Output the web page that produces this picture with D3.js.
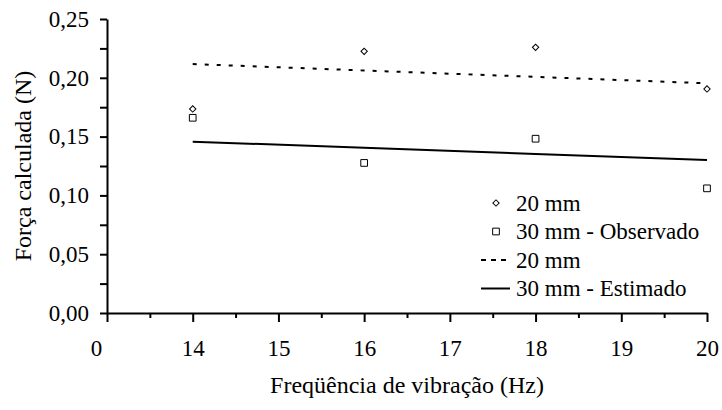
<!DOCTYPE html>
<html>
<head>
<meta charset="utf-8">
<script src="https://cdn.jsdelivr.net/npm/d3@7"></script>
</head>
<body style="margin:0;background:#fff">
<svg id="chart" width="722" height="410"></svg>
<script>
// Frequências (Hz) e forças calculadas (N)
const frequencies = [14, 16, 18, 20];
const observed20 = [0.1735, 0.2225, 0.2259, 0.1905];
const observed30 = [0.1660, 0.1276, 0.1482, 0.1060];
const estimated20 = [0.2117, 0.2062, 0.2008, 0.1953];
const estimated30 = [0.1457, 0.1405, 0.1352, 0.1300];

const xTickValues = [13, 14, 15, 16, 17, 18, 19, 20];
const xTickLabels = ["0", "14", "15", "16", "17", "18", "19", "20"];
const xMinorTicks = [13.5, 14.5, 15.5, 16.5, 17.5, 18.5, 19.5];
const yTickValues = [0, 0.05, 0.10, 0.15, 0.20, 0.25];
const yTickLabels = ["0,00", "0,05", "0,10", "0,15", "0,20", "0,25"];
const yMinorTicks = [0.025, 0.075, 0.125, 0.175, 0.225];

const legendItems = [
  { label: "20 mm", kind: "diamond" },
  { label: "30 mm - Observado", kind: "square" },
  { label: "20 mm", kind: "dashed" },
  { label: "30 mm - Estimado", kind: "solid" }
];

const FONT = "Liberation Serif";

const svg = d3.select("#chart");
const x = d3.scaleLinear().domain([13, 20]).range([107, 707]);
const y = d3.scaleLinear().domain([0, 0.25]).range([313, 19]);

// Eixo X: marcas menores e maiores
svg.append("g")
  .attr("transform", `translate(0,${y(0)})`)
  .call(d3.axisBottom(x).tickValues(xMinorTicks).tickSize(5).tickSizeOuter(0).tickFormat(""))
  .call(g => g.select(".domain").remove())
  .call(g => g.selectAll("line").attr("stroke", "#000").attr("stroke-width", 2));

const xAxis = svg.append("g")
  .attr("transform", `translate(0,${y(0)})`)
  .call(d3.axisBottom(x).tickValues(xTickValues).tickSize(9).tickSizeOuter(0)
    .tickPadding(18).tickFormat((d, i) => xTickLabels[i]));
xAxis.attr("font-family", FONT).attr("font-size", 23);
xAxis.select(".domain").attr("stroke", "#000").attr("stroke-width", 2);
xAxis.selectAll("line").attr("stroke", "#000").attr("stroke-width", 2);
xAxis.selectAll("text").attr("fill", "#000")
  .attr("dx", (d, i) => i === 0 ? -11 : 0);

// Eixo Y
svg.append("g")
  .attr("transform", `translate(${x(13)},0)`)
  .call(d3.axisLeft(y).tickValues(yMinorTicks).tickSize(7).tickSizeOuter(0).tickFormat(""))
  .call(g => g.select(".domain").remove())
  .call(g => g.selectAll("line").attr("stroke", "#000").attr("stroke-width", 2));

const yAxis = svg.append("g")
  .attr("transform", `translate(${x(13)},0)`)
  .call(d3.axisLeft(y).tickValues(yTickValues).tickSize(7).tickSizeOuter(0)
    .tickPadding(11).tickFormat((d, i) => yTickLabels[i]));
yAxis.attr("font-family", FONT).attr("font-size", 23);
yAxis.select(".domain").attr("stroke", "#000").attr("stroke-width", 2);
yAxis.selectAll("line").attr("stroke", "#000").attr("stroke-width", 2);
yAxis.selectAll("text").attr("fill", "#000");

// Títulos dos eixos
svg.append("text")
  .attr("x", 407).attr("y", 393)
  .attr("text-anchor", "middle")
  .attr("font-family", FONT).attr("font-size", 24)
  .text("Freqüência de vibração (Hz)");

svg.append("text")
  .attr("transform", "translate(31,166) rotate(-90)")
  .attr("text-anchor", "middle")
  .attr("font-family", FONT).attr("font-size", 24)
  .text("Força calculada (N)");

// Retas estimadas
const line = d3.line().x(d => x(d[0])).y(d => y(d[1]));
svg.append("path")
  .datum(frequencies.map((f, i) => [f, estimated20[i]]))
  .attr("d", line).attr("fill", "none").attr("stroke", "#000")
  .attr("stroke-width", 2).attr("stroke-dasharray", "4,8");
svg.append("path")
  .datum(frequencies.map((f, i) => [f, estimated30[i]]))
  .attr("d", line).attr("fill", "none").attr("stroke", "#000")
  .attr("stroke-width", 2);

// Pontos observados
const diamond = d3.symbol().type(d3.symbolSquare).size(20);
const square = d3.symbol().type(d3.symbolSquare).size(45);

svg.append("g").selectAll("path")
  .data(frequencies.map((f, i) => [f, observed20[i]]))
  .join("path")
  .attr("d", diamond)
  .attr("transform", d => `translate(${x(d[0])},${y(d[1])}) rotate(45)`)
  .attr("fill", "#fff").attr("stroke", "#000").attr("stroke-width", 1);

svg.append("g").selectAll("path")
  .data(frequencies.map((f, i) => [f, observed30[i]]))
  .join("path")
  .attr("d", square)
  .attr("transform", d => `translate(${x(d[0])},${y(d[1])})`)
  .attr("fill", "#fff").attr("stroke", "#000").attr("stroke-width", 1);

// Legenda
const legend = svg.append("g").attr("transform", "translate(496,203)");
const rows = legend.selectAll("g").data(legendItems).join("g")
  .attr("transform", (d, i) => `translate(0,${i * 28.5})`);

rows.each(function (d) {
  const g = d3.select(this);
  if (d.kind === "diamond") {
    g.append("path").attr("d", diamond).attr("transform", "rotate(45)")
      .attr("fill", "#fff").attr("stroke", "#000").attr("stroke-width", 1);
  } else if (d.kind === "square") {
    g.append("path").attr("d", square)
      .attr("fill", "#fff").attr("stroke", "#000").attr("stroke-width", 1);
  } else {
    g.append("line").attr("x1", -15).attr("x2", 14).attr("y1", 0).attr("y2", 0)
      .attr("stroke", "#000").attr("stroke-width", 2)
      .attr("stroke-dasharray", d.kind === "dashed" ? "5,5" : null);
  }
  g.append("text").attr("x", 20).attr("y", 7.5)
    .attr("font-family", FONT).attr("font-size", 23).text(d.label);
});
</script>
</body>
</html>
